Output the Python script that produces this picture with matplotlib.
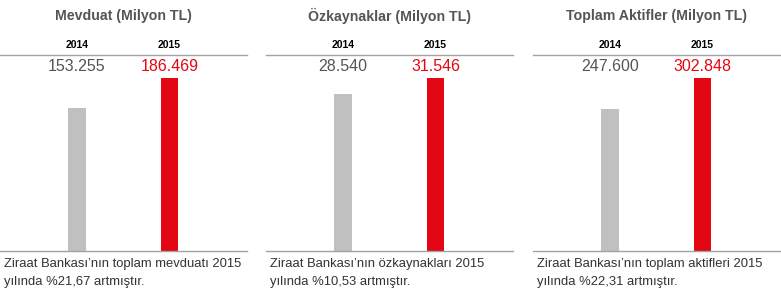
import matplotlib
matplotlib.use("Agg")
import matplotlib.pyplot as plt
import matplotlib.transforms as mtransforms

# --- donnees ---------------------------------------------------------------
titles = ["Mevduat (Milyon TL)", "Özkaynaklar (Milyon TL)", "Toplam Aktifler (Milyon TL)"]
years = ["2014", "2015"]
values_2014 = [153255, 28540, 247600]
values_2015 = [186469, 31546, 302848]
labels_2014 = ["153.255", "28.540", "247.600"]
labels_2015 = ["186.469", "31.546", "302.848"]
captions = [
    "Ziraat Bankası’nın toplam mevduatı 2015\nyılında %21,67 artmıştır.",
    "Ziraat Bankası’nın özkaynakları 2015\nyılında %10,53 artmıştır.",
    "Ziraat Bankası’nın toplam aktifleri 2015\nyılında %22,31 artmıştır.",
]

RED = "#E30613"
GREY_BAR = "#C0C0C0"
LINE = "#A3A3A3"
TXT = "#555555"

plt.rcParams["font.family"] = ["Liberation Sans", "DejaVu Sans"]

W, H = 781, 297
fig = plt.figure(figsize=(W / 100, H / 100), dpi=100)

panel_x0 = [0, 266, 533]
panel_w = 247
top_px, bot_px = 54.5, 250.5
ax_h = bot_px - top_px

for i in range(3):
    ax = fig.add_axes([panel_x0[i] / W, (H - bot_px) / H, panel_w / W, ax_h / H])
    vals = [values_2014[i], values_2015[i]]
    ax.bar([0, 1], vals, width=0.19, color=[GREY_BAR, RED], linewidth=0)
    ax.set_xlim(-0.832, 1.838)
    # barre rouge ~ 172.8 px sur un axe de 196 px
    ax.set_ylim(0, values_2015[i] * ax_h / 172.8)
    for s in ["left", "right"]:
        ax.spines[s].set_visible(False)
    for s in ["top", "bottom"]:
        ax.spines[s].set_color(LINE)
        ax.spines[s].set_linewidth(1.0)
    ax.set_xticks([])
    ax.set_yticks([])

    tr = mtransforms.blended_transform_factory(ax.transData, ax.transAxes)
    # annees
    for x, y in zip([0, 1], years):
        ax.text(x, 1 + 9.5 / ax_h, y, transform=tr, ha="center", va="center",
                fontsize=7.5, fontweight="bold", color="black")
    # valeurs
    ax.text(0, 1 - 12 / ax_h, labels_2014[i], transform=tr, ha="center", va="center",
            fontsize=11.5, color=TXT)
    ax.text(1, 1 - 12 / ax_h, labels_2015[i], transform=tr, ha="center", va="center",
            fontsize=11.5, color=RED)
    # titre
    ax.text(0.5, 1 + (top_px - 16) / ax_h, titles[i], transform=ax.transAxes,
            ha="center", va="center", fontsize=10.2, color=TXT, fontweight="bold")
    # legende
    ax.text(4 / panel_w, -(258 - bot_px) / ax_h, captions[i], transform=ax.transAxes,
            ha="left", va="top", fontsize=9.4, color="#333333", linespacing=1.7)

fig.savefig("out.png", dpi=100)
